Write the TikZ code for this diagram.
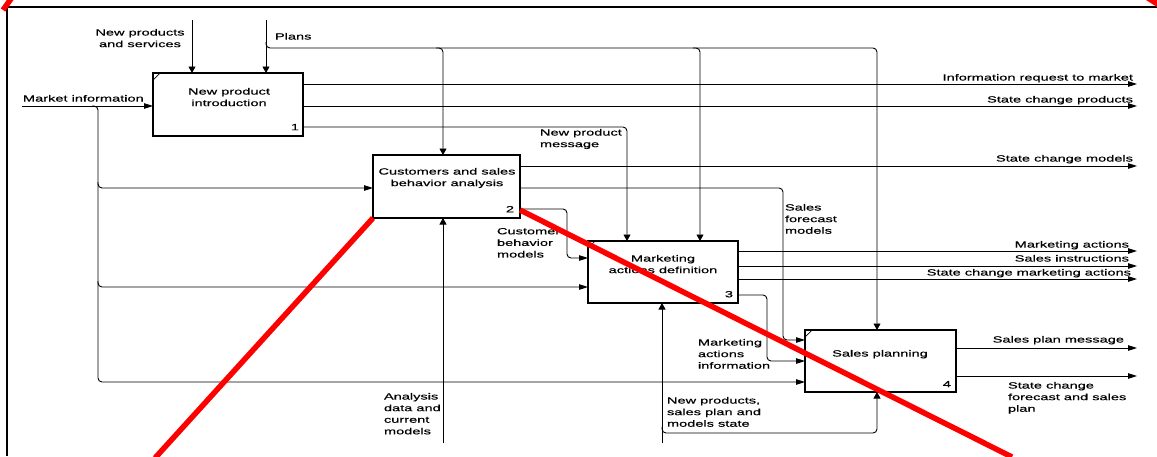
\documentclass[tikz,border=0pt]{standalone}
\usepackage{fontspec}
\newfontfamily\lblfont[FakeStretch=1.62,FakeBold=0.4]{Liberation Sans}
\usetikzlibrary{arrows.meta}
\begin{document}
\begin{tikzpicture}[x=1pt,y=-1pt,
  every node/.style={inner sep=0pt,outer sep=0pt},
  lbl/.style={font=\lblfont\fontsize{9}{11.6}\selectfont,text=black},
  actbox/.style={draw,line width=1.3pt,fill=white,anchor=north west},
  conn/.style={draw,line width=0.9pt,rounded corners=4pt},
  harr/.style={-{Triangle[length=9pt,width=5.5pt]}},
  varr/.style={-{Triangle[length=6.5pt,width=7pt]}},
  notch/.style={line width=0.7pt},
  redmark/.style={draw=red,line width=5.5pt}]
\useasboundingbox (0,0) rectangle (1157,456);
\fill[white] (0,0) rectangle (1157,456);

% sheet frame
\draw[line width=1.3pt] (7,456) -- (7,7) -- (1157,7);

% activity boxes
\node[actbox,minimum width=150pt,minimum height=63pt] (b1) at (153,73) {};
\node[actbox,minimum width=147pt,minimum height=63pt] (b2) at (373,155) {};
\node[actbox,minimum width=150pt,minimum height=62pt] (b3) at (588,241) {};
\node[actbox,minimum width=151pt,minimum height=62pt] (b4) at (805,330) {};
\foreach \b in {b1,b3,b4}
  \draw[notch] ([shift={(0,7)}]\b.north west) -- ([shift={(7,0)}]\b.north west);

% box titles and numbers
\node[lbl,align=center,anchor=north] (t1) at (229,88) {New product\\introduction};
\node[lbl,align=center,anchor=north] (t2) at (447,168) {Customers and sales\\behavior analysis};
\node[lbl,align=center,anchor=north] (t3) at (663,255) {Marketing\\actions definition};
\node[lbl,anchor=north] (t4) at (880,350) {Sales planning};
\node[lbl,anchor=north east] (n1) at (299,124) {1};
\node[lbl,anchor=north east] (n2) at (514,206) {2};
\node[lbl,anchor=north east] (n3) at (733,291) {3};
\node[lbl,anchor=north east] (n4) at (951,381) {4};

% reference levels
\coordinate (mi) at (22,106);
\coordinate (trk) at (92,106);
\coordinate (m2) at (98,182);
\coordinate (m3) at (98,281);
\coordinate (x98) at (98,0);
\coordinate (nps) at (192,20);
\coordinate (pl) at (266,20);
\coordinate (plb) at (266,42);
\coordinate (pc) at (877,48);
\coordinate (pb2) at (436,48);
\coordinate (pb3) at (693,48);
\coordinate (x443) at (443,0);
\coordinate (x700) at (700,0);
\coordinate (x627) at (627,0);
\coordinate (x567) at (567,0);
\coordinate (x767) at (767,0);
\coordinate (x783) at (783,0);
\coordinate (x877) at (877,0);
\coordinate (y127) at (0,127);
\coordinate (y188) at (0,188);
\coordinate (y209) at (0,209);
\coordinate (y258) at (0,258);
\coordinate (y287) at (0,287);
\coordinate (y295) at (0,295);
\coordinate (y340) at (0,340);
\coordinate (y361) at (0,361);
\coordinate (y382) at (0,382);
\coordinate (y433) at (0,433);
\coordinate (mech2) at (443,443);
\coordinate (mech3) at (662,443);
\coordinate (m3b) at (662,427);
\coordinate (o1) at (1137,84);
\coordinate (o2) at (1137,106);
\coordinate (o3) at (1137,166);
\coordinate (o4) at (1137,251);
\coordinate (o5) at (1137,266);
\coordinate (o6) at (1137,279);
\coordinate (o7) at (1137,348);
\coordinate (o8) at (1137,376);

% inputs
\draw[conn,harr] (mi) -- (b1.west |- mi);
\draw[conn,harr] (trk) -| (x98 |- y382) -- (b4.west |- y382);
\draw[conn,harr] (m2) |- (b2.west |- y188);
\draw[conn,harr] (m3) |- (b3.west |- y287);

% controls
\draw[conn,varr] (nps) -- (b1.north -| nps);
\draw[conn,varr] (pl) -- (b1.north -| pl);
\draw[conn,varr] (plb) |- (pc) -- (b4.north -| pc);
\draw[conn,varr] (pb2) -| (b2.north -| x443);
\draw[conn,varr] (pb3) -| (b3.north -| x700);
\draw[conn,varr] (b1.east |- y127) -| (b3.north -| x627);

% flows between activities
\draw[conn,harr] (b2.east |- y188) -| (x783 |- y340) -- (b4.west |- y340);
\draw[conn,harr] (b2.east |- y209) -| (x567 |- y258) -- (b3.west |- y258);
\draw[conn,harr] (b3.east |- y295) -| (x767 |- y361) -- (b4.west |- y361);

% mechanisms
\draw[conn,varr] (mech2) -- (b2.south -| mech2);
\draw[conn,varr] (mech3) -- (b3.south -| mech3);
\draw[conn,varr] (m3b) |- (x877 |- y433) -- (b4.south -| x877);

% outputs
\draw[conn,harr] (b1.east |- o1) -- (o1);
\draw[conn,harr] (b1.east |- o2) -- (o2);
\draw[conn,harr] (b2.east |- o3) -- (o3);
\draw[conn,harr] (b3.east |- o4) -- (o4);
\draw[conn,harr] (b3.east |- o5) -- (o5);
\draw[conn,harr] (b3.east |- o6) -- (o6);
\draw[conn,harr] (b4.east |- o7) -- (o7);
\draw[conn,harr] (b4.east |- o8) -- (o8);

% arrow labels
\node[lbl,anchor=north west] (lmi) at (23,95) {Market information};
\node[lbl,align=center,anchor=north] (lnps) at (140,29) {New products\\and services};
\node[lbl,anchor=north west] (lpl) at (275,33) {Plans};
\node[lbl,align=left,anchor=north west] (lnpm) at (540,129) {New product\\message};
\node[lbl,anchor=north east] (lo1) at (1133,74) {Information request to market};
\node[lbl,anchor=north east] (lo2) at (1133,96) {State change products};
\node[lbl,anchor=north east] (lo3) at (1133,155) {State change models};
\node[lbl,align=left,anchor=north west] (lsfm) at (785,204) {Sales\\forecast\\models};
\node[lbl,align=left,anchor=north west] (lcbm) at (497,228) {Customer\\behavior\\models};
\node[lbl,anchor=north east] (lo4) at (1129,241) {Marketing actions};
\node[lbl,anchor=north east] (lo5) at (1129,255) {Sales instructions};
\node[lbl,anchor=north east] (lo6) at (1131,269) {State change marketing actions};
\node[lbl,align=left,anchor=north west] (lmai) at (698,339) {Marketing\\actions\\information};
\node[lbl,align=left,anchor=north west] (ladc) at (384,393) {Analysis\\data and\\current\\models};
\node[lbl,align=left,anchor=north west] (lnsp) at (667,397) {New products,\\sales plan and\\models state};
\node[lbl,anchor=north east] (lo7) at (1124,336) {Sales plan message};
\node[lbl,align=left,anchor=north west] (lo8) at (1008,382) {State change\\forecast and sales\\plan};

% red strike marks over the sheet
\begin{scope}
\clip (0,0) rectangle (1157,456);
\draw[redmark] (155,458) -- (373,218);
\draw[redmark] (520,210) -- (1012,457);
\draw[redmark] (3,10) -- (13,-4);
\fill[red] (1146,0) -- (1157,0) -- (1157,7) -- cycle;
\end{scope}
\end{tikzpicture}
\end{document}
